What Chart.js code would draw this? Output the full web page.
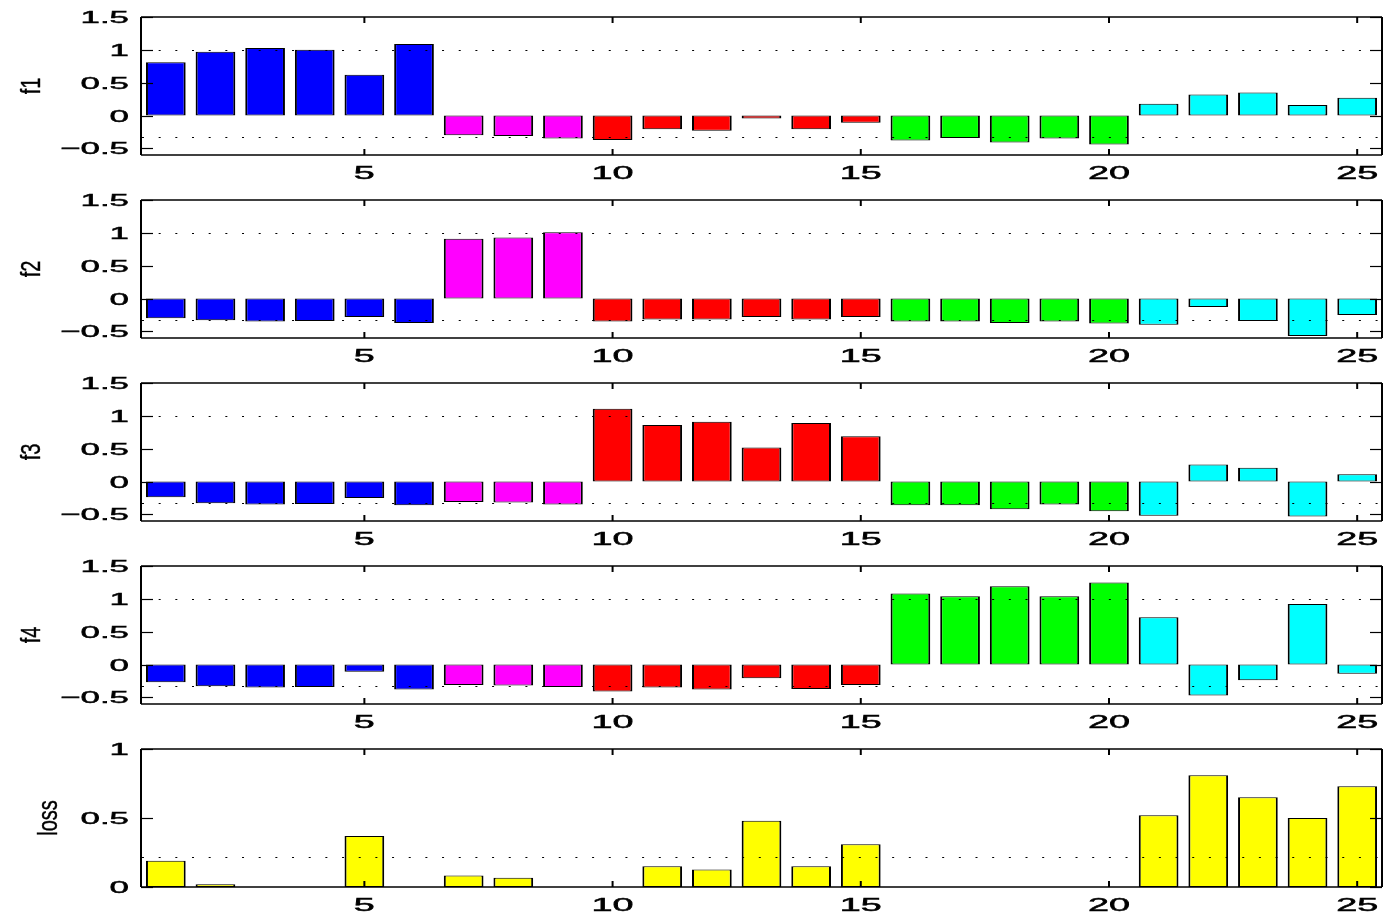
<!DOCTYPE html>
<html>
<head>
<meta charset="utf-8">
<script src="https://cdn.jsdelivr.net/npm/chart.js@4.4.1/dist/chart.umd.min.js"></script>
<style>
html,body{margin:0;padding:0;background:#fff;}
#wrap{position:relative;width:1386px;height:915px;overflow:hidden;}
canvas{position:absolute;left:0;}
</style>
</head>
<body>
<div id="wrap">
<canvas id="c0" width="1386" height="183" style="top:0px"></canvas>
<canvas id="c1" width="1386" height="183" style="top:183px"></canvas>
<canvas id="c2" width="1386" height="183" style="top:366px"></canvas>
<canvas id="c3" width="1386" height="183" style="top:549px"></canvas>
<canvas id="c4" width="1386" height="183" style="top:732px"></canvas>
</div>
<script>
// ---- data ----
const samples = [1,2,3,4,5,6,7,8,9,10,11,12,13,14,15,16,17,18,19,20,21,22,23,24,25];
const sampleClass = ['c1','c1','c1','c1','c1','c1','c2','c2','c2','c3','c3','c3','c3','c3','c3','c4','c4','c4','c4','c4','c5','c5','c5','c5','c5'];
const classColors = {c1:'#0000ff', c2:'#ff00ff', c3:'#ff0000', c4:'#00ff00', c5:'#00ffff'};
const lossColor = '#ffff00';

const f1 = [0.81,0.97,1.03,1.00,0.62,1.09,-0.30,-0.31,-0.35,-0.37,-0.21,-0.23,-0.045,-0.21,-0.11,-0.38,-0.34,-0.41,-0.35,-0.44,0.18,0.32,0.35,0.16,0.27];
const f2 = [-0.30,-0.33,-0.35,-0.34,-0.28,-0.37,0.91,0.93,1.01,-0.35,-0.32,-0.32,-0.28,-0.32,-0.28,-0.35,-0.35,-0.37,-0.35,-0.38,-0.40,-0.13,-0.34,-0.57,-0.25];
const f3 = [-0.24,-0.33,-0.35,-0.34,-0.25,-0.36,-0.31,-0.32,-0.35,1.11,0.86,0.91,0.52,0.89,0.69,-0.36,-0.36,-0.42,-0.35,-0.45,-0.52,0.26,0.21,-0.53,0.11];
const f4 = [-0.27,-0.33,-0.35,-0.34,-0.11,-0.38,-0.31,-0.32,-0.34,-0.41,-0.35,-0.38,-0.21,-0.37,-0.31,1.08,1.04,1.19,1.04,1.25,0.72,-0.47,-0.24,0.92,-0.14];
const loss = [0.19,0.02,0,0,0.37,0,0.084,0.067,0,0,0.15,0.127,0.48,0.15,0.31,0,0,0,0,0,0.52,0.81,0.65,0.50,0.73];

const panelTitles = ['f1','f2','f3','f4','loss'];
const xTicks = [5,10,15,20,25];
const xTickLabels = ['5','10','15','20','25'];
const fYTicks = [-0.5,0,0.5,1,1.5];
const fYTickLabels = ['\u22120.5','0','0.5','1','1.5'];
const lossYTicks = [0,0.5,1];
const lossYTickLabels = ['0','0.5','1'];
const fRefLines = [1,-0.333];
const lossRefLines = [0.22];
const fRange = [-0.6,1.5];
const lossRange = [0,1];

// ---- drawing helpers ----
const FONT = '"Liberation Sans", Arial, Helvetica, sans-serif';
function wideText(ctx, txt, x, y, sx) {
  ctx.save(); ctx.translate(x, y); ctx.scale(sx, 1);
  ctx.fillText(txt, 0, 0); ctx.strokeText(txt, 0, 0);
  ctx.restore();
}
const matlabAxes = {
  id: 'matlabAxes',
  afterDatasetsDraw(chart, args, o) {
    const ctx = chart.ctx;
    const {left, right, top, bottom} = chart.chartArea;
    const x = chart.scales.x, y = chart.scales.y;
    ctx.save();
    // dotted reference lines
    ctx.strokeStyle = '#000';
    ctx.lineWidth = 1;
    ctx.setLineDash([2, 14.67]);
    o.refLines.forEach(v => {
      const py = Math.round(y.getPixelForValue(v)) + 0.5;
      ctx.beginPath(); ctx.moveTo(left + 1, py); ctx.lineTo(right, py); ctx.stroke();
    });
    ctx.setLineDash([]);
    // box
    ctx.lineWidth = 1.5;
    ctx.beginPath(); ctx.moveTo(left, top); ctx.lineTo(right, top); ctx.stroke();
    ctx.beginPath(); ctx.moveTo(left, bottom); ctx.lineTo(right, bottom); ctx.stroke();
    ctx.lineWidth = 2;
    ctx.beginPath(); ctx.moveTo(left, top); ctx.lineTo(left, bottom); ctx.stroke();
    ctx.beginPath(); ctx.moveTo(right, top); ctx.lineTo(right, bottom); ctx.stroke();
    // tick marks (inside)
    ctx.lineWidth = 1.2;
    y.ticks.forEach(t => {
      const py = Math.round(y.getPixelForValue(t.value)) + 0.5;
      ctx.beginPath(); ctx.moveTo(left, py); ctx.lineTo(left + 12, py); ctx.stroke();
      ctx.beginPath(); ctx.moveTo(right - 12, py); ctx.lineTo(right, py); ctx.stroke();
    });
    ctx.lineWidth = 2;
    x.ticks.forEach(t => {
      const px = x.getPixelForValue(t.value);
      ctx.beginPath(); ctx.moveTo(px, bottom); ctx.lineTo(px, bottom - 6); ctx.stroke();
      ctx.beginPath(); ctx.moveTo(px, top); ctx.lineTo(px, top + 6); ctx.stroke();
    });
    // tick labels (wide, stretched like the source figure)
    ctx.fillStyle = '#000';
    ctx.lineWidth = 0.5;
    ctx.font = '17px ' + FONT;
    ctx.textAlign = 'right';
    ctx.textBaseline = 'alphabetic';
    y.ticks.forEach((t, i) => {
      wideText(ctx, o.yLabels[i], 129, y.getPixelForValue(t.value) + 6, 2.05);
    });
    ctx.font = '18px ' + FONT;
    ctx.textAlign = 'center';
    x.ticks.forEach((t, i) => {
      wideText(ctx, o.xLabels[i], x.getPixelForValue(t.value), bottom + 24, 2.1);
    });
    // axis title (rotated)
    ctx.font = '20px ' + FONT;
    ctx.textAlign = 'center';
    ctx.textBaseline = 'middle';
    ctx.lineWidth = 0.3;
    ctx.save();
    ctx.translate(o.titleX, (top + bottom) / 2);
    ctx.scale(1.35, 1);
    ctx.rotate(-Math.PI / 2);
    ctx.fillText(o.title, 0, 0);
    ctx.strokeText(o.title, 0, 0);
    ctx.restore();
    ctx.restore();
  }
};

function makePanel(id, values, colors, range, yTicks, yLabels, refLines, title, titleX) {
  new Chart(document.getElementById(id), {
    type: 'bar',
    data: {
      datasets: [{
        data: samples.map((s, i) => ({x: s, y: values[i]})),
        backgroundColor: colors,
        borderColor: '#000',
        borderWidth: {left: 2, right: 2, top: 1, bottom: 1},
        borderSkipped: false,
        categoryPercentage: 1,
        barPercentage: 0.8
      }]
    },
    options: {
      responsive: false,
      animation: false,
      events: [],
      layout: {padding: {top: 17, right: 4, left: 0, bottom: 0}},
      plugins: {
        legend: {display: false},
        tooltip: {enabled: false},
        matlabAxes: {refLines, yLabels, xLabels: xTickLabels, title, titleX}
      },
      scales: {
        x: {
          type: 'linear', min: 0.5, max: 25.5, offset: false,
          grid: {display: false, offset: false}, border: {display: false},
          ticks: {display: false},
          afterBuildTicks: s => { s.ticks = xTicks.map(v => ({value: v})); },
          afterFit: s => { s.height = 28; }
        },
        y: {
          type: 'linear', min: range[0], max: range[1],
          grid: {display: false}, border: {display: false},
          ticks: {display: false},
          afterBuildTicks: s => { s.ticks = yTicks.map(v => ({value: v})); },
          afterFit: s => { s.width = 141; }
        }
      }
    },
    plugins: [matlabAxes]
  });
}

const fColors = sampleClass.map(c => classColors[c]);
const lossColors = samples.map(() => lossColor);
makePanel('c0', f1, fColors, fRange, fYTicks, fYTickLabels, fRefLines, panelTitles[0], 33);
makePanel('c1', f2, fColors, fRange, fYTicks, fYTickLabels, fRefLines, panelTitles[1], 33);
makePanel('c2', f3, fColors, fRange, fYTicks, fYTickLabels, fRefLines, panelTitles[2], 33);
makePanel('c3', f4, fColors, fRange, fYTicks, fYTickLabels, fRefLines, panelTitles[3], 33);
makePanel('c4', loss, lossColors, lossRange, lossYTicks, lossYTickLabels, lossRefLines, panelTitles[4], 50);
</script>
</body>
</html>
